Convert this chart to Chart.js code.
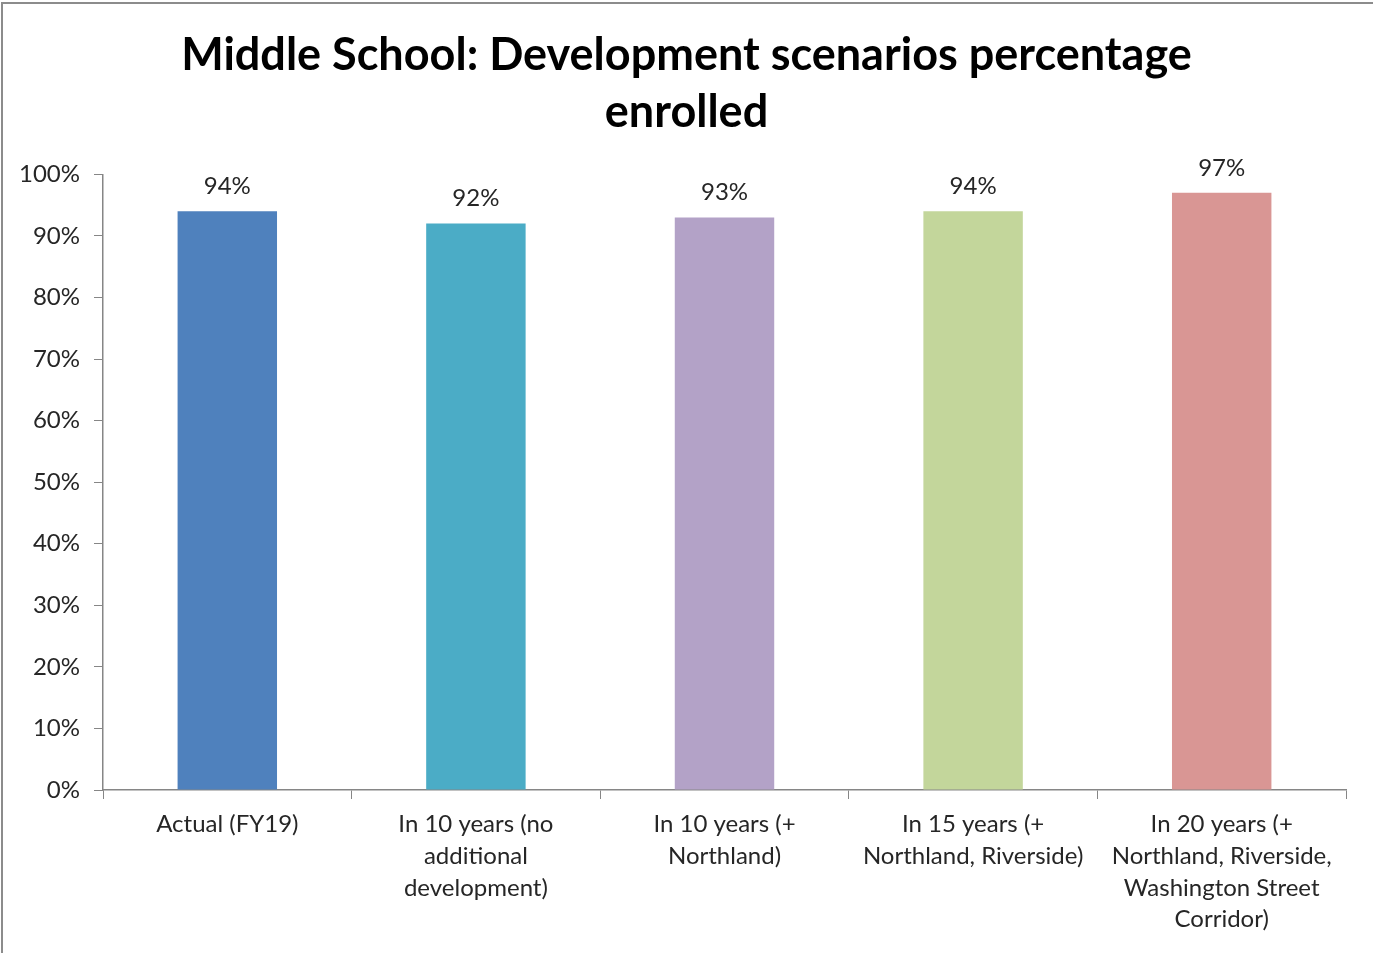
<!DOCTYPE html>
<html>
<head>
<meta charset="utf-8">
<script src="https://cdn.jsdelivr.net/npm/chart.js@4/dist/chart.umd.min.js"></script>
<style>
  body { margin: 0; background: #fff; }
  #wrap { width: 1373px; height: 953px; }
</style>
</head>
<body>
<div id="wrap"><canvas id="chart-1"></canvas></div>
<script>
/************************ data *********************************/

const categories = [
  ["Actual (FY19)"],
  ["In 10 years (no", "additional", "development)"],
  ["In 10 years (+", "Northland)"],
  ["In 15 years (+", "Northland, Riverside)"],
  ["In 20 years (+", "Northland, Riverside,", "Washington Street", "Corridor)"]
];
const enrolled = [94, 92, 93, 94, 97];
const barColors = ["#4F81BD", "#4BACC6", "#B3A2C7", "#C3D69B", "#D99694"];
const yTicks = [0, 10, 20, 30, 40, 50, 60, 70, 80, 90, 100];

const FONT = "Lato, 'Open Sans', sans-serif";

/************************ value labels above bars *********************/
const valueLabels = {
  id: "valueLabels",
  afterDatasetsDraw(chart) {
    const ctx = chart.ctx;
    const meta = chart.getDatasetMeta(0);
    ctx.save();
    ctx.font = "24px " + FONT;
    ctx.fillStyle = "#262626";
    ctx.textAlign = "center";
    ctx.textBaseline = "bottom";
    meta.data.forEach(function (bar, i) {
      ctx.fillText(enrolled[i] + "%", bar.x, bar.y - 13);
    });
    ctx.restore();
  }
};

/************************ outer frame *********************************/
const frame = {
  id: "frame",
  beforeDraw(chart) {
    const ctx = chart.ctx;
    ctx.save();
    ctx.fillStyle = "#fff";
    ctx.fillRect(0, 0, chart.width, chart.height);
    ctx.strokeStyle = "#8c8c8c";
    ctx.lineWidth = 2;
    ctx.beginPath();
    ctx.moveTo(2, chart.height);
    ctx.lineTo(2, 3);
    ctx.lineTo(chart.width, 3);
    ctx.stroke();
    ctx.restore();
  }
};

/************************ chart *********************************/
const ctx1 = document.getElementById("chart-1").getContext("2d");
const myChart1 = new Chart(ctx1, {
  type: "bar",
  data: {
    labels: categories,
    datasets: [
      {
        data: enrolled,
        backgroundColor: barColors,
        borderWidth: 0,
        barPercentage: 0.4,
        categoryPercentage: 1.0,
      },
    ],
  },
  options: {
    responsive: true,
    maintainAspectRatio: false,
    animation: false,
    layout: {
      padding: { left: 0, right: 0, top: 0, bottom: 0 },
    },
    plugins: {
      legend: { display: false },
      tooltip: { enabled: false },
      title: {
        display: true,
        text: ["Middle School: Development scenarios percentage", "enrolled"],
        color: "#000",
        font: { family: FONT, size: 45, weight: "bold", lineHeight: 1.27 },
        padding: { top: 27, bottom: 33 },
      },
    },
    scales: {
      x: {
        grid: {
          drawOnChartArea: false,
          drawTicks: true,
          tickLength: 9,
          color: "#868686",
          offset: true,
        },
        border: { display: true, color: "#868686", width: 1.5 },
        ticks: {
          color: "#262626",
          font: { family: FONT, size: 24, lineHeight: 1.33 },
          padding: 9,
          maxRotation: 0,
          autoSkip: false,
        },
        afterFit(scale) { scale.height = 163; },
      },
      y: {
        min: 0,
        max: 100,
        afterBuildTicks(scale) {
          scale.ticks = yTicks.map(function (v) { return { value: v }; });
        },
        grid: {
          drawOnChartArea: false,
          drawTicks: true,
          tickLength: 9,
          color: "#868686",
        },
        border: { display: true, color: "#868686", width: 1.5 },
        ticks: {
          color: "#262626",
          font: { family: FONT, size: 24 },
          padding: 14,
          callback: function (v) { return v + "%"; },
        },
        afterFit(scale) { scale.width = 103; },
      },
      // empty right-hand spacer so the plot ends where the reference does
      yRight: {
        position: "right",
        display: true,
        grid: { display: false },
        border: { display: false },
        ticks: { display: false },
        afterFit(scale) { scale.width = 27; },
      },
    },
  },
  plugins: [frame, valueLabels],
});
</script>
</body>
</html>
